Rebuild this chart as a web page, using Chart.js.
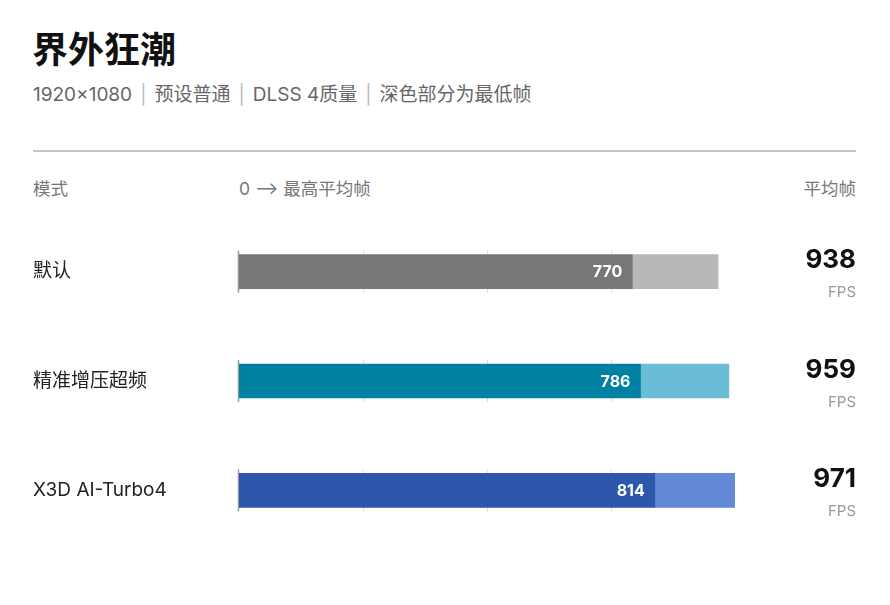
<!DOCTYPE html>
<html>
<head>
	<title>界外狂潮</title>
	<meta charset="UTF-8">
	<style type="text/css">
		body {
			margin: 0;
			background: #fff;
			font-family: Inter, "Noto Sans CJK SC", sans-serif;
		}
		.page {
			position: relative;
			width: 890px;
			height: 605px;
		}
		.title {
			position: absolute; left: 32px; top: 28px;
			font-size: 36px; font-weight: 700; color: #111;
			line-height: 44px;
		}
		.sub {
			position: absolute; left: 33px; top: 82px;
			font-size: 19px; color: #666; line-height: 26px;
		}
		.sub .sep { color: #bbb; margin: 0 8px; }
		.rule {
			position: absolute; left: 33px; top: 150px;
			width: 823px; height: 0; border-top: 2px solid #c4c4c4;
		}
		.head {
			position: absolute; top: 176px;
			font-size: 17.5px; color: #777; line-height: 26px;
		}
		.chart-container {
			position: absolute; left: 0; top: 0;
			width: 890px; height: 605px;
		}
	</style>
</head>
<body>
	<div class="page">
		<div class="title">界外狂潮</div>
		<div class="sub">1920×1080<span class="sep">|</span>预设普通<span class="sep">|</span>DLSS 4质量<span class="sep">|</span>深色部分为最低帧</div>
		<div class="rule"></div>
		<div class="head" style="left:33px">模式</div>
		<div class="head" style="left:239px">0 ⟶ 最高平均帧</div>
		<div class="head" style="right:34px">平均帧</div>
		<div class="chart-container">
			<canvas id="chart"></canvas>
		</div>
	</div>
	<script src="https://cdn.jsdelivr.net/npm/chart.js"></script>
	<script type="text/javascript">
// chart data
const modes = ["默认", "精准增压超频", "X3D AI-Turbo4"];
const lowFps = [770, 786, 814];
const avgFps = [938, 959, 971];
const darkColors = ["#777777", "#0080a3", "#2d56ad"];
const lightColors = ["#b8b8b8", "#6bbdd7", "#6589d9"];

const maxFps = Math.max.apply(null, avgFps);
const FONT = 'Inter, "Noto Sans CJK SC", sans-serif';

// draws the short tick marks, the values on the bars and the fps column
const rowDecor = {
  id: 'rowDecor',
  beforeDatasetsDraw(chart) {
    const ctx = chart.ctx;
    const x = chart.scales.x, y = chart.scales.y;
    const half = 17;
    ctx.save();
    for (let i = 0; i < modes.length; i++) {
      const cy = y.getPixelForValue(i);
      ctx.strokeStyle = '#dedede';
      ctx.lineWidth = 1;
      for (let k = 1; k < 4; k++) {
        const px = Math.round(x.getPixelForValue(maxFps * k / 4)) + 0.5;
        ctx.beginPath();
        ctx.moveTo(px, cy - half - 4);
        ctx.lineTo(px, cy + half + 4);
        ctx.stroke();
      }
      ctx.strokeStyle = '#9a9a9a';
      ctx.lineWidth = 1.5;
      const x0 = x.getPixelForValue(0) - 0.5;
      ctx.beginPath();
      ctx.moveTo(x0, cy - half - 4);
      ctx.lineTo(x0, cy + half + 4);
      ctx.stroke();
    }
    ctx.restore();
  },
  afterDatasetsDraw(chart) {
    const ctx = chart.ctx;
    const x = chart.scales.x, y = chart.scales.y;
    ctx.save();
    for (let i = 0; i < modes.length; i++) {
      const cy = y.getPixelForValue(i);
      // low fps on the dark bar
      ctx.fillStyle = '#fff';
      ctx.font = '700 16px ' + FONT;
      ctx.textAlign = 'right';
      ctx.textBaseline = 'middle';
      ctx.fillText(String(lowFps[i]), x.getPixelForValue(lowFps[i]) - 10, cy + 1);
      // avg fps column
      ctx.fillStyle = '#111';
      ctx.font = '700 26px ' + FONT;
      ctx.fillText(String(avgFps[i]), 856, cy - 11);
      ctx.fillStyle = '#999';
      ctx.font = '15px ' + FONT;
      ctx.fillText('FPS', 856, cy + 21);
    }
    ctx.restore();
  }
};

const ctx = document.getElementById("chart").getContext("2d");
const chart = new Chart(ctx, {
  type: 'bar',
  data: {
    labels: modes,
    datasets: [{
      label: '最低帧',
      data: lowFps,
      backgroundColor: darkColors,
      barThickness: 34,
      order: 0
    }, {
      label: '平均帧',
      data: lowFps.map((l, i) => [l, avgFps[i]]),
      backgroundColor: lightColors,
      barThickness: 34,
      order: 1
    }]
  },
  options: {
    indexAxis: 'y',
    responsive: true,
    maintainAspectRatio: false,
    animation: false,
    grouped: false,
    layout: {
      padding: { left: 33, right: 155, top: 217, bottom: 60 }
    },
    plugins: {
      legend: { display: false },
      tooltip: { enabled: false }
    },
    scales: {
      x: {
        display: false,
        min: 0,
        max: maxFps
      },
      y: {
        grid: { display: false },
        border: { display: false },
        afterFit: function(scale) { scale.width = 206; },
        ticks: {
          crossAlign: 'far',
          padding: 0,
          color: '#222',
          font: { family: FONT, size: 19 }
        }
      }
    }
  },
  plugins: [rowDecor]
});
</script>
</body>
</html>
